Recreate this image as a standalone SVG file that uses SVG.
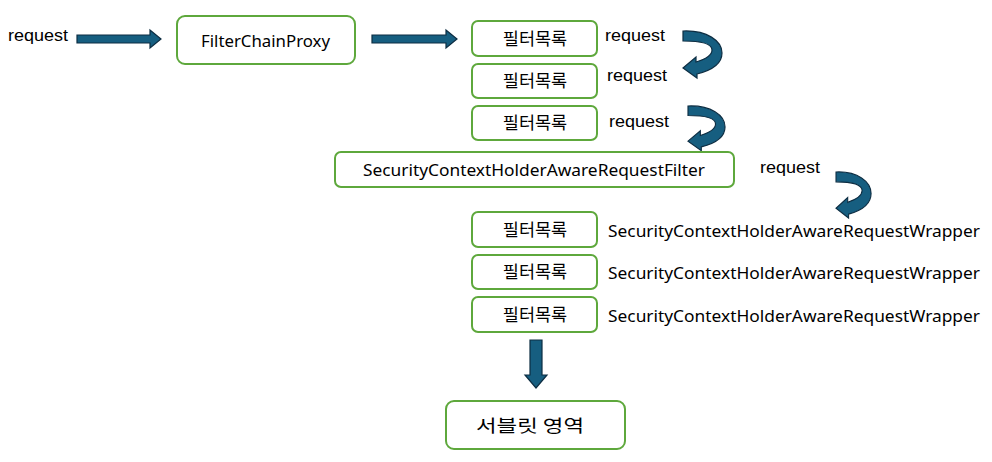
<svg xmlns="http://www.w3.org/2000/svg" width="992" height="462" viewBox="0 0 992 462">
<style>
.box{fill:#ffffff;stroke:#5ea83c;stroke-width:2}
.arr{fill:#165e80;stroke:#0d2d42;stroke-width:1.2;stroke-linejoin:miter}
.req{font-family:"Liberation Sans",Arial,sans-serif;font-size:17px;fill:#000}
.lbl{font-family:"Noto Sans","Noto Sans CJK KR",sans-serif;font-size:17px;fill:#000}
.kr{font-family:"Noto Sans CJK KR",sans-serif;font-size:17.5px;fill:#000}
</style>
<defs>
<path id="curve" d="M0,0 C24,-1 39,10 39,22 C39,32 30,39 14,43 L14,47 L0,37 L13,26 L13,31 C23,28 29,24 29,19 C29,13 20,10 0,10 Z"/>
</defs>
<rect width="992" height="462" fill="#ffffff"/>
<g id="connectors">
<path class="arr" d="M77,35 L150,35 L150,30 L161,39 L150,48 L150,43 L77,43 Z"/>
<path class="arr" d="M372,35 L446,35 L446,30 L457,39 L446,48 L446,43 L372,43 Z"/>
<use href="#curve" class="arr" transform="translate(683,31)"/>
<use href="#curve" class="arr" transform="translate(688,106) scale(0.95,0.95)"/>
<use href="#curve" class="arr" transform="translate(836,172) scale(0.9,0.98)"/>
<path class="arr" d="M530,340 L542,340 L542,375 L547,375 L536,388 L525,375 L530,375 Z"/>
</g>
<g id="labels">
<text class="req" x="8" y="41" textLength="60" lengthAdjust="spacingAndGlyphs">request</text>
<text class="req" x="605" y="41" textLength="60" lengthAdjust="spacingAndGlyphs">request</text>
<text class="req" x="607" y="81" textLength="60" lengthAdjust="spacingAndGlyphs">request</text>
<text class="req" x="609" y="127" textLength="60" lengthAdjust="spacingAndGlyphs">request</text>
<text class="req" x="760" y="173" textLength="60" lengthAdjust="spacingAndGlyphs">request</text>
<text class="lbl" x="608" y="237" textLength="372" lengthAdjust="spacingAndGlyphs">SecurityContextHolderAwareRequestWrapper</text>
<text class="lbl" x="608" y="279" textLength="372" lengthAdjust="spacingAndGlyphs">SecurityContextHolderAwareRequestWrapper</text>
<text class="lbl" x="608" y="322" textLength="372" lengthAdjust="spacingAndGlyphs">SecurityContextHolderAwareRequestWrapper</text>
</g>
<g id="filterChainProxy">
<rect class="box" x="177" y="16" width="178" height="48" rx="8"/>
<text class="lbl" x="201" y="47" textLength="129" lengthAdjust="spacingAndGlyphs">FilterChainProxy</text>
</g>
<g id="filter1">
<rect class="box" x="472" y="21" width="125" height="35" rx="6"/>
<text class="kr" x="535" y="44.5" text-anchor="middle">필터목록</text>
</g>
<g id="filter2">
<rect class="box" x="472" y="64" width="125" height="34" rx="6"/>
<text class="kr" x="535" y="87" text-anchor="middle">필터목록</text>
</g>
<g id="filter3">
<rect class="box" x="472" y="106" width="125" height="34" rx="6"/>
<text class="kr" x="535" y="129" text-anchor="middle">필터목록</text>
</g>
<g id="securityFilter">
<rect class="box" x="335" y="152" width="399" height="35" rx="6"/>
<text class="lbl" x="363" y="176" textLength="342" lengthAdjust="spacingAndGlyphs">SecurityContextHolderAwareRequestFilter</text>
</g>
<g id="filter4">
<rect class="box" x="472" y="212" width="125" height="35" rx="6"/>
<text class="kr" x="535" y="235.5" text-anchor="middle">필터목록</text>
</g>
<g id="filter5">
<rect class="box" x="472" y="255" width="125" height="34" rx="6"/>
<text class="kr" x="535" y="278" text-anchor="middle">필터목록</text>
</g>
<g id="filter6">
<rect class="box" x="472" y="297" width="125" height="35" rx="6"/>
<text class="kr" x="535" y="320.5" text-anchor="middle">필터목록</text>
</g>
<g id="servlet">
<rect class="box" x="446" y="401" width="179" height="48" rx="8"/>
<text class="kr" x="476" y="432" font-size="19" textLength="108" lengthAdjust="spacingAndGlyphs">서블릿 영역</text>
</g>
</svg>
